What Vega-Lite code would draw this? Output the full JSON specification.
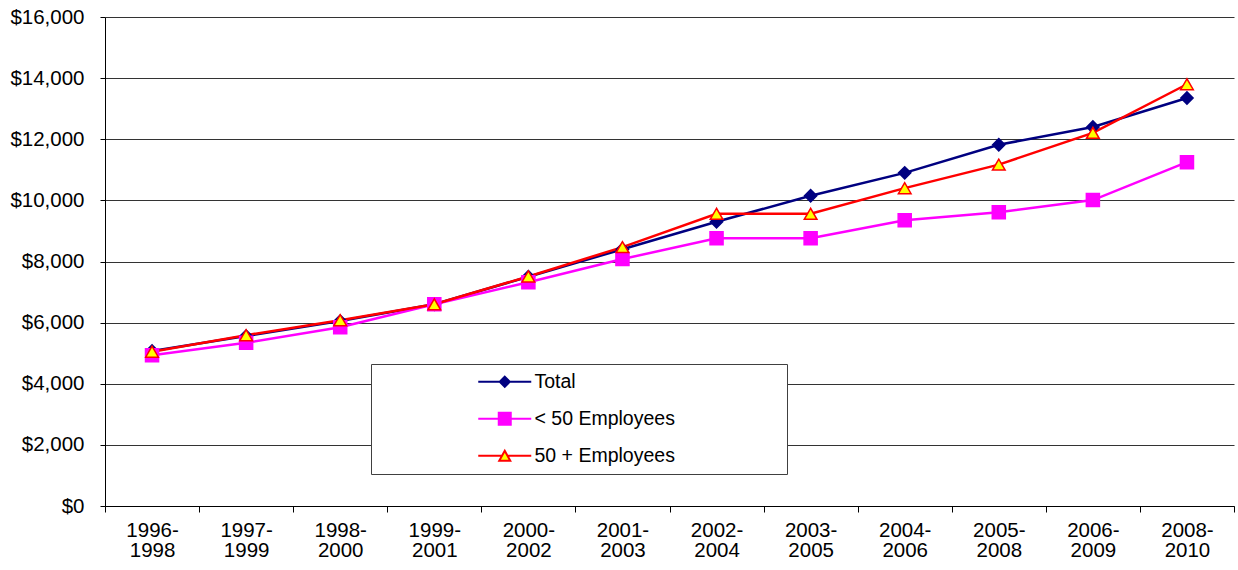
{
  "$schema": "https://vega.github.io/schema/vega-lite/v6.json",
  "autosize": "none",
  "width": 1129,
  "height": 489,
  "padding": {"left": 105, "top": 17, "right": 4, "bottom": 64},
  "background": "white",
  "config": {
    "font": "Liberation Sans",
    "view": {"stroke": null},
    "axis": {"labelFont": "Liberation Sans", "labelFontSize": 20.5, "labelColor": "black", "domainColor": "black", "tickColor": "black", "title": null}
  },
  "data": {
    "values": [
      {"period": "1996-1998", "series": "Total", "value": 5070},
      {"period": "1997-1999", "series": "Total", "value": 5560},
      {"period": "1998-2000", "series": "Total", "value": 6050},
      {"period": "1999-2001", "series": "Total", "value": 6600},
      {"period": "2000-2002", "series": "Total", "value": 7500},
      {"period": "2001-2003", "series": "Total", "value": 8400},
      {"period": "2002-2004", "series": "Total", "value": 9300},
      {"period": "2003-2005", "series": "Total", "value": 10150},
      {"period": "2004-2006", "series": "Total", "value": 10900},
      {"period": "2005-2008", "series": "Total", "value": 11820},
      {"period": "2006-2009", "series": "Total", "value": 12400},
      {"period": "2008-2010", "series": "Total", "value": 13350},
      {"period": "1996-1998", "series": "< 50 Employees", "value": 4930},
      {"period": "1997-1999", "series": "< 50 Employees", "value": 5340},
      {"period": "1998-2000", "series": "< 50 Employees", "value": 5850},
      {"period": "1999-2001", "series": "< 50 Employees", "value": 6600},
      {"period": "2000-2002", "series": "< 50 Employees", "value": 7320},
      {"period": "2001-2003", "series": "< 50 Employees", "value": 8080},
      {"period": "2002-2004", "series": "< 50 Employees", "value": 8760},
      {"period": "2003-2005", "series": "< 50 Employees", "value": 8760},
      {"period": "2004-2006", "series": "< 50 Employees", "value": 9350},
      {"period": "2005-2008", "series": "< 50 Employees", "value": 9610},
      {"period": "2006-2009", "series": "< 50 Employees", "value": 10010},
      {"period": "2008-2010", "series": "< 50 Employees", "value": 11250},
      {"period": "1996-1998", "series": "50 + Employees", "value": 5050},
      {"period": "1997-1999", "series": "50 + Employees", "value": 5590},
      {"period": "1998-2000", "series": "50 + Employees", "value": 6080},
      {"period": "1999-2001", "series": "50 + Employees", "value": 6600},
      {"period": "2000-2002", "series": "50 + Employees", "value": 7510},
      {"period": "2001-2003", "series": "50 + Employees", "value": 8470},
      {"period": "2002-2004", "series": "50 + Employees", "value": 9560},
      {"period": "2003-2005", "series": "50 + Employees", "value": 9560},
      {"period": "2004-2006", "series": "50 + Employees", "value": 10400},
      {"period": "2005-2008", "series": "50 + Employees", "value": 11170},
      {"period": "2006-2009", "series": "50 + Employees", "value": 12210},
      {"period": "2008-2010", "series": "50 + Employees", "value": 13800}
    ]
  },
  "encoding": {
    "x": {
      "field": "period",
      "type": "nominal",
      "sort": null,
      "scale": {"paddingInner": 0, "paddingOuter": 0},
      "axis": {
        "labelAngle": 0,
        "tickBand": "extent",
        "tickSize": 6,
        "labelPadding": 8,
        "labelLineHeight": 20,
        "labelExpr": "[slice(datum.label, 0, 5), slice(datum.label, 5)]",
        "grid": false
      }
    },
    "y": {
      "field": "value",
      "type": "quantitative",
      "scale": {"domain": [0, 16000], "nice": false},
      "axis": {
        "values": [0, 2000, 4000, 6000, 8000, 10000, 12000, 14000, 16000],
        "format": "$,.0f",
        "tickSize": 5,
        "labelPadding": 16,
        "grid": true,
        "gridColor": "#333333",
        "gridOpacity": 1
      }
    },
    "stroke": {
      "field": "series",
      "type": "nominal",
      "scale": {"domain": ["Total", "< 50 Employees", "50 + Employees"], "range": ["#000080", "#FF00FF", "#FF0000"]},
      "legend": {
        "title": "\u00a0",
        "titleOrient": "right",
        "titlePadding": 104,
        "titleFontSize": 19.5,
        "orient": "none",
        "legendX": 266,
        "legendY": 347,
        "padding": 8,
        "fillColor": "white",
        "strokeColor": "#404040",
        "labelFont": "Liberation Sans",
        "labelFontSize": 19.5,
        "labelColor": "black",
        "symbolSize": 100,
        "symbolStrokeWidth": 2,
        "symbolOpacity": 1,
        "symbolOffset": 116,
        "labelOffset": 20,
        "rowPadding": 16
      }
    }
  },
  "layer": [
    {
      "mark": {"type": "line", "strokeWidth": 2.5}
    },
    {
      "mark": {"type": "point", "filled": true, "opacity": 0},
      "encoding": {
        "shape": {
          "field": "series",
          "type": "nominal",
          "scale": {
            "domain": ["Total", "< 50 Employees", "50 + Employees"],
            "range": ["M-5.3,0H5.3M0,-1L1,0L0,1L-1,0Z", "M-5.3,0H5.3M-1.2,-1.2H1.2V1.2H-1.2Z", "M-5.3,0H-0.6M0.6,0H5.3M0,-1L1.1,1H-1.1Z"]
          }
        },
        "fill": {
          "field": "series",
          "type": "nominal",
          "scale": {"domain": ["Total", "< 50 Employees", "50 + Employees"], "range": ["#000080", "#FF00FF", "#FFFF00"]}
        }
      }
    },
    {
      "mark": {"type": "point", "filled": true, "strokeWidth": 1.5, "opacity": 1},
      "encoding": {
        "shape": {
          "condition": [
            {"test": "datum.series === 'Total'", "value": "diamond"},
            {"test": "datum.series === '< 50 Employees'", "value": "square"}
          ],
          "value": "triangle-up"
        },
        "fill": {
          "condition": [
            {"test": "datum.series === 'Total'", "value": "#000080"},
            {"test": "datum.series === '< 50 Employees'", "value": "#FF00FF"}
          ],
          "value": "#FFFF00"
        },
        "size": {
          "condition": [
            {"test": "datum.series === 'Total'", "value": 150},
            {"test": "datum.series === '< 50 Employees'", "value": 170}
          ],
          "value": 160
        }
      }
    }
  ]
}
